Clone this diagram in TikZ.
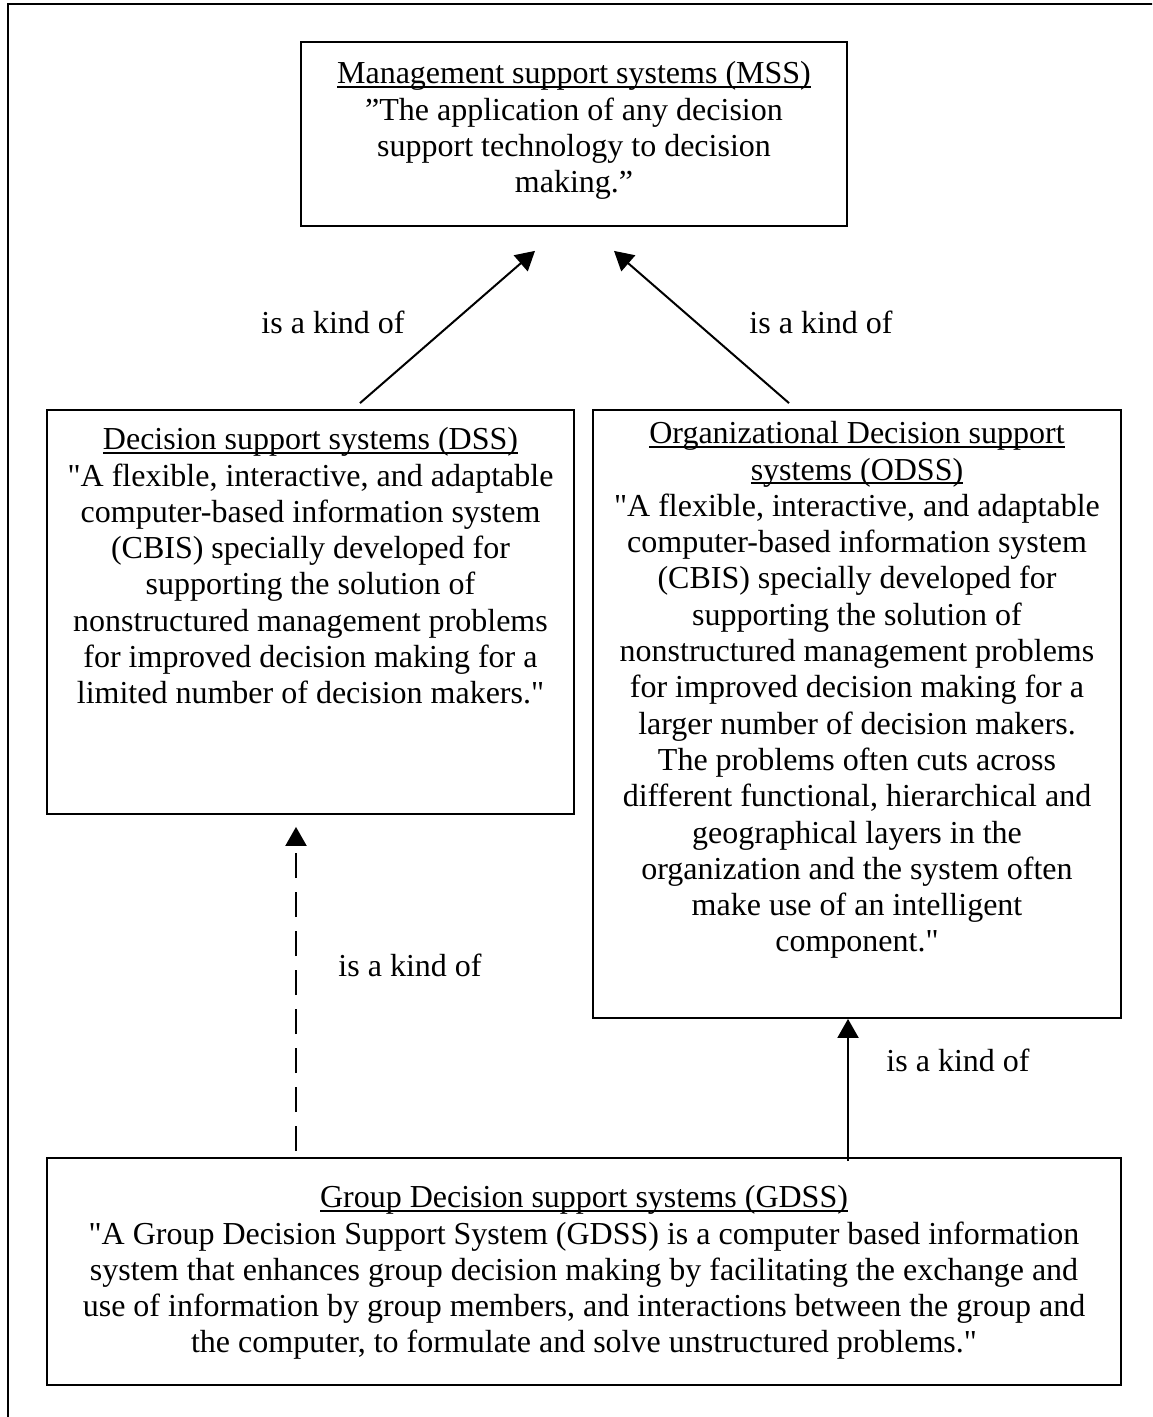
\documentclass[tikz,border=0pt]{standalone}
\usepackage{fontspec}
\setmainfont{Liberation Serif}[Ligatures=TeXOff]
\usetikzlibrary{arrows.meta}
% underline drawn as a rule slightly below the baseline
\newcommand\ulx[1]{\setbox0\hbox{#1}\rlap{\rule[-1.9pt]{\wd0}{0.8pt}}\box0}
\begin{document}
\begin{tikzpicture}[x=0.5pt,y=-0.5pt,
  boxn/.style={draw, line width=0.9pt, inner sep=0pt, anchor=center},
  txt/.style={anchor=north, inner sep=0pt, align=center,
    font=\fontsize{16}{18.15}\selectfont},
  lbl/.style={inner sep=0pt, font=\fontsize{16}{18.15}\selectfont},
  arr/.style={line width=1pt, -{Triangle[length=9.5pt,width=10.5pt]}},
  darr/.style={arr, dash pattern=on 12.5pt off 7pt}]
\useasboundingbox (0,0) rectangle (1152,1417);
\begin{scope}
\clip (0,0) rectangle (1152,1417);
\draw[line width=1.1pt] (8,1430) -- (8,4) -- (1170,4);
\end{scope}

% boxes
\node[boxn, minimum width=273pt, minimum height=92pt] (mss) at (574,134) {};
\node[boxn, minimum width=263.5pt, minimum height=202pt] (dss) at (310.5,612) {};
\node[boxn, minimum width=264pt, minimum height=304pt] (odss) at (857,714) {};
\node[boxn, minimum width=537pt, minimum height=113.5pt] (gdss) at (584,1271.5) {};

% box texts
\node[txt] (mss-t) at ([yshift=-10pt]mss.north) {\ulx{Management support systems (MSS)}\\
”The application of any decision\\
support technology to decision\\
making.”};
\node[txt] (dss-t) at ([yshift=-9pt]dss.north) {\ulx{Decision support systems (DSS)}\\
"A flexible, interactive, and adaptable\\
computer-based information system\\
(CBIS) specially developed for\\
supporting the solution of\\
nonstructured management problems\\
for improved decision making for a\\
limited number of decision makers."};
\node[txt] (odss-t) at ([yshift=-6pt]odss.north) {\ulx{Organizational Decision support}\\
\ulx{systems (ODSS)}\\
"A flexible, interactive, and adaptable\\
computer-based information system\\
(CBIS) specially developed for\\
supporting the solution of\\
nonstructured management problems\\
for improved decision making for a\\
larger number of decision makers.\\
The problems often cuts across\\
different functional, hierarchical and\\
geographical layers in the\\
organization and the system often\\
make use of an intelligent\\
component."};
\node[txt] (gdss-t) at ([yshift=-14pt]gdss.north) {\ulx{Group Decision support systems (GDSS)}\\
"A Group Decision Support System (GDSS) is a computer based information\\
system that enhances group decision making by facilitating the exchange and\\
use of information by group members, and interactions between the group and\\
the computer, to formulate and solve unstructured problems."};

% connectors
\draw[arr] ([xshift=24.75pt,yshift=3pt]dss.north) -- ([xshift=-19.5pt,yshift=-12pt]mss.south);
\draw[arr] ([xshift=-34pt,yshift=3pt]odss.north) -- ([xshift=20pt,yshift=-12pt]mss.south);
\draw[darr] ([xshift=-144pt,yshift=3pt]gdss.north) -- ([xshift=-7.25pt,yshift=-6pt]dss.south);
\draw[arr] ([xshift=132pt,yshift=-2pt]gdss.north) -- ([xshift=-4.5pt]odss.south);

% labels
\node[lbl] (l1) at (333,322) {is a kind of};
\node[lbl] (l2) at (821,322) {is a kind of};
\node[lbl] (l3) at (410,965) {is a kind of};
\node[lbl] (l4) at (958,1060) {is a kind of};
\end{tikzpicture}
\end{document}
